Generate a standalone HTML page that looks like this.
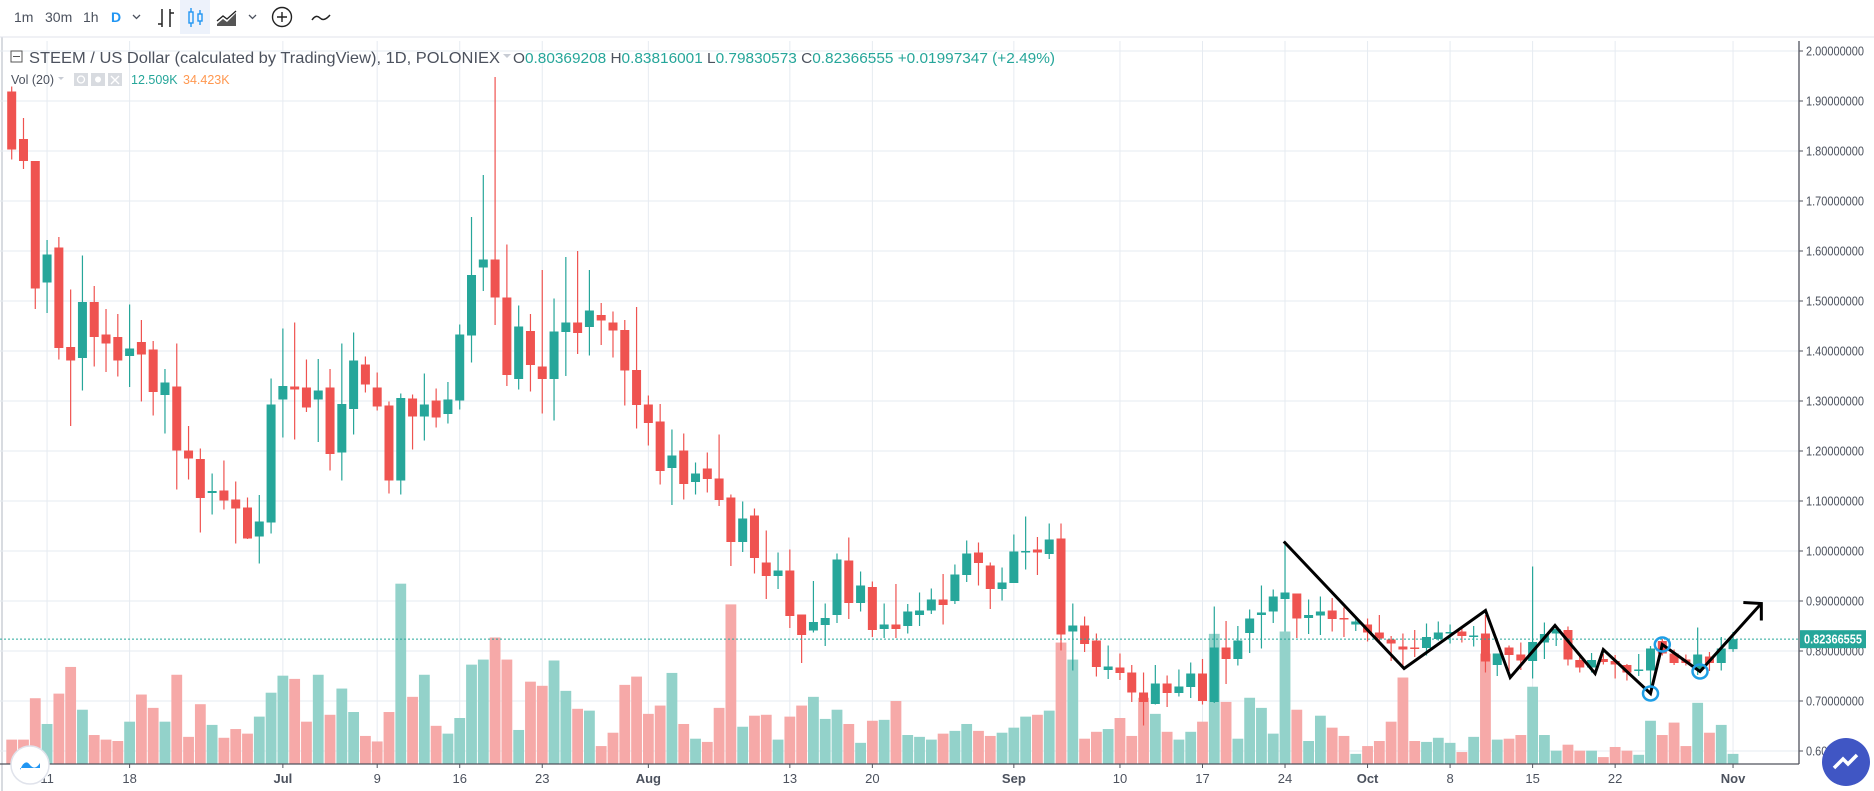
<!DOCTYPE html>
<html><head><meta charset="utf-8">
<style>
html,body{margin:0;padding:0;background:#fff;}
svg{display:block;font-family:"Liberation Sans",sans-serif;}
</style></head>
<body>
<svg id="chart" width="1874" height="791" viewBox="0 0 1874 791" xmlns="http://www.w3.org/2000/svg">
  <rect x="0" y="0" width="1874" height="791" fill="#fff"/>
  <line x1="2" y1="37" x2="2" y2="791" stroke="#d8dbe0" stroke-width="2"/>
  <g id="toolbar" font-size="14" fill="#4c525e">
    <text x="14" y="22">1m</text>
    <text x="45" y="22">30m</text>
    <text x="83" y="22">1h</text>
    <text x="111" y="22" fill="#2196f3" font-weight="bold">D</text>
    <path d="M133 15 l3.5 3.5 l3.5 -3.5" fill="none" stroke="#4c525e" stroke-width="1.3"/>
    <g stroke="#222" stroke-width="1.5" fill="none">
      <path d="M162 9 v18 M158 24 h4 M170 9 v18 M170 13 h4"/>
    </g>
    <rect x="180" y="0" width="30" height="34" fill="#edf2fb"/>
    <g stroke="#2196f3" stroke-width="1.4" fill="none">
      <rect x="189" y="12" width="4" height="11"/><path d="M191 8 v4 M191 23 v4"/>
      <rect x="198" y="14" width="4" height="7"/><path d="M200 10 v4 M200 21 v4"/>
    </g>
    <g>
      <path d="M217 24 l6 -5 l4 3 l9 -9 v13 h-19z" fill="#555"/>
      <path d="M217 21 l6 -5 l4 3 l9 -8" fill="none" stroke="#222" stroke-width="1.3"/>
    </g>
    <path d="M249 15 l3.5 3.5 l3.5 -3.5" fill="none" stroke="#4c525e" stroke-width="1.3"/>
    <g>
      <circle cx="282" cy="17" r="9.5" fill="none" stroke="#222" stroke-width="1.4"/>
      <path d="M277 17 h10 M282 12 v10" stroke="#222" stroke-width="1.4"/>
    </g>
    <path d="M312 20 q4 -6 8 -2 q4 4 10 -3" fill="none" stroke="#222" stroke-width="1.5"/>
  </g>
  <line x1="0" y1="37" x2="1874" y2="37" stroke="#e0e3eb" stroke-width="1"/>
  <g id="grid"></g>
  <g id="volumes"></g>
  <g id="candles"></g>
  <g id="axes"></g>
  <g id="drawing"></g>
  <g id="legend">
    <g>
      <rect x="11" y="51" width="11" height="11" fill="none" stroke="#555" stroke-width="1"/>
      <path d="M13 56.5 h7" stroke="#555" stroke-width="1"/>
    </g>
    <text x="29" y="63" font-size="16" fill="#4c525e" textLength="471" lengthAdjust="spacingAndGlyphs">STEEM / US Dollar (calculated by TradingView), 1D, POLONIEX</text>
    <path d="M503 54 l4 4 l4 -4z" fill="#c8ccd4"/>
    <text x="513" y="63" font-size="15" fill="#4c525e" textLength="542" lengthAdjust="spacingAndGlyphs">O<tspan fill="#26a69a">0.80369208</tspan>  H<tspan fill="#26a69a">0.83816001</tspan>  L<tspan fill="#26a69a">0.79830573</tspan>  C<tspan fill="#26a69a">0.82366555</tspan>  <tspan fill="#26a69a">+0.01997347 (+2.49%)</tspan></text>
    <text x="11" y="84" font-size="12.5" fill="#4c525e">Vol (20)</text>
    <path d="M58 77 l3 3 l3 -3z" fill="#c8ccd4"/>
    <rect x="74" y="73" width="14" height="13" fill="#d8dbe0"/>
    <rect x="91" y="73" width="14" height="13" fill="#d8dbe0"/>
    <rect x="108" y="73" width="14" height="13" fill="#d8dbe0"/>
    <circle cx="81" cy="79.5" r="3.5" fill="none" stroke="#fff" stroke-width="1.3"/>
    <circle cx="98" cy="79.5" r="3" fill="#fff"/>
    <path d="M111 76 l8 8 M119 76 l-8 8" stroke="#fff" stroke-width="1.4"/>
    <text x="131" y="84" font-size="12.5" fill="#26a69a">12.509K</text>
    <text x="183" y="84" font-size="12.5" fill="#ff9850">34.423K</text>
  </g>
  <g>
    <circle cx="30" cy="765" r="19" fill="#fff" stroke="#e0e3eb" stroke-width="1.5"/>
    <path d="M20 770 q5 -12 10 -5 q5 6 10 -2 v5 h-20z" fill="#2196f3"/>
  </g>
  <g>
    <circle cx="1846" cy="762" r="24" fill="#4056c4"/>
    <path d="M1830 780 l4 -8 z" fill="#4056c4"/>
    <path d="M1834 768 l9 -9 l5 5 l9 -9" fill="none" stroke="#fff" stroke-width="3.5"/>
  </g>
</svg>
<script>
var opens=[1.919,1.824,1.780,1.537,1.607,1.408,1.386,1.498,1.433,1.428,1.390,1.418,1.403,1.312,1.329,1.201,1.184,1.116,1.121,1.103,1.087,1.029,1.057,1.303,1.329,1.327,1.303,1.327,1.197,1.284,1.373,1.327,1.291,1.141,1.305,1.269,1.301,1.274,1.301,1.431,1.567,1.583,1.507,1.344,1.440,1.369,1.344,1.438,1.457,1.448,1.472,1.457,1.442,1.362,1.293,1.259,1.166,1.201,1.138,1.165,1.145,1.107,1.018,1.071,0.977,0.950,0.961,0.873,0.841,0.852,0.872,0.981,0.896,0.928,0.844,0.853,0.850,0.872,0.881,0.903,0.900,0.952,0.997,0.971,0.924,0.936,0.997,1.003,0.994,1.025,0.839,0.851,0.821,0.762,0.767,0.757,0.717,0.694,0.735,0.716,0.728,0.755,0.698,0.807,0.784,0.836,0.872,0.879,0.904,0.915,0.866,0.871,0.881,0.866,0.853,0.853,0.837,0.823,0.809,0.807,0.806,0.824,0.835,0.839,0.829,0.835,0.772,0.807,0.793,0.780,0.817,0.835,0.842,0.782,0.767,0.784,0.780,0.772,0.761,0.761,0.820,0.795,0.783,0.763,0.789,0.776,0.80369];
var highs=[1.929,1.866,1.780,1.622,1.628,1.523,1.591,1.530,1.484,1.474,1.493,1.462,1.420,1.364,1.415,1.250,1.205,1.155,1.181,1.139,1.107,1.112,1.345,1.445,1.457,1.383,1.384,1.364,1.415,1.437,1.389,1.357,1.299,1.315,1.313,1.355,1.325,1.338,1.453,1.668,1.752,1.948,1.613,1.491,1.474,1.562,1.505,1.588,1.600,1.562,1.496,1.479,1.462,1.488,1.311,1.294,1.243,1.235,1.177,1.197,1.233,1.113,1.099,1.085,1.041,0.997,1.003,0.873,0.940,0.895,0.995,1.027,0.959,0.939,0.895,0.934,0.894,0.917,0.925,0.954,0.973,1.021,1.017,0.977,0.967,1.033,1.069,1.028,1.055,1.055,0.895,0.869,0.835,0.811,0.795,0.772,0.757,0.772,0.751,0.763,0.777,0.784,0.889,0.860,0.850,0.883,0.931,0.923,1.020,0.915,0.903,0.909,0.906,0.887,0.870,0.865,0.872,0.830,0.835,0.842,0.855,0.859,0.853,0.850,0.850,0.872,0.795,0.811,0.817,0.969,0.857,0.846,0.849,0.791,0.796,0.794,0.792,0.774,0.794,0.810,0.824,0.803,0.793,0.847,0.798,0.828,0.83816];
var lows=[1.783,1.764,1.484,1.476,1.383,1.250,1.321,1.369,1.358,1.349,1.328,1.299,1.271,1.235,1.123,1.143,1.037,1.073,1.083,1.015,1.024,0.975,1.035,1.227,1.223,1.278,1.218,1.161,1.141,1.233,1.317,1.281,1.115,1.113,1.203,1.221,1.247,1.255,1.283,1.377,1.520,1.452,1.330,1.323,1.319,1.275,1.261,1.350,1.394,1.391,1.412,1.387,1.291,1.245,1.211,1.133,1.092,1.103,1.113,1.117,1.090,0.970,0.998,0.955,0.904,0.924,0.846,0.776,0.837,0.810,0.856,0.864,0.879,0.828,0.826,0.826,0.835,0.850,0.874,0.853,0.894,0.938,0.931,0.884,0.901,0.936,0.963,0.952,0.984,0.801,0.761,0.798,0.749,0.744,0.742,0.698,0.651,0.693,0.688,0.709,0.706,0.693,0.696,0.734,0.771,0.796,0.805,0.856,0.839,0.826,0.834,0.832,0.839,0.828,0.840,0.819,0.817,0.780,0.771,0.788,0.791,0.821,0.815,0.817,0.809,0.757,0.750,0.760,0.762,0.745,0.784,0.810,0.771,0.757,0.757,0.773,0.745,0.741,0.750,0.725,0.791,0.772,0.771,0.752,0.760,0.761,0.79831];
var closes=[1.803,1.780,1.525,1.593,1.406,1.381,1.498,1.428,1.415,1.381,1.405,1.393,1.318,1.337,1.201,1.185,1.106,1.120,1.101,1.085,1.025,1.059,1.293,1.330,1.323,1.287,1.321,1.194,1.294,1.381,1.333,1.289,1.141,1.306,1.269,1.293,1.267,1.303,1.433,1.552,1.583,1.507,1.352,1.449,1.372,1.344,1.439,1.457,1.436,1.481,1.461,1.441,1.361,1.292,1.256,1.160,1.191,1.134,1.155,1.144,1.102,1.018,1.065,0.986,0.950,0.961,0.870,0.832,0.858,0.866,0.983,0.896,0.931,0.842,0.853,0.844,0.879,0.881,0.903,0.892,0.953,0.995,0.976,0.924,0.937,0.999,1.000,0.997,1.023,0.833,0.851,0.814,0.768,0.769,0.756,0.717,0.698,0.735,0.716,0.729,0.755,0.700,0.807,0.784,0.821,0.865,0.877,0.909,0.917,0.865,0.872,0.879,0.864,0.864,0.859,0.837,0.825,0.815,0.803,0.805,0.828,0.837,0.838,0.830,0.831,0.779,0.795,0.792,0.781,0.818,0.834,0.844,0.783,0.767,0.782,0.778,0.773,0.757,0.763,0.805,0.795,0.776,0.776,0.793,0.776,0.805,0.82367];
var volumes=[5.3,5.3,14.3,8.7,15.3,21.1,11.8,6.3,5.3,5.0,9.2,15.1,12.2,9.2,19.4,5.9,13.0,8.5,5.7,7.6,6.6,10.3,15.5,19.2,18.5,9.2,19.4,10.7,16.4,11.3,6.1,4.9,11.3,39.2,14.6,19.4,8.3,6.6,10.0,21.6,22.7,27.5,22.7,7.4,17.9,17.0,22.5,15.9,12.0,11.6,3.9,6.8,17.2,19.0,10.9,12.7,19.8,8.7,5.5,4.8,12.2,34.7,8.1,10.5,10.7,5.3,10.3,12.7,14.6,9.8,11.8,8.7,4.6,9.4,9.6,13.7,6.3,5.9,5.3,6.6,7.2,8.7,7.2,6.1,6.8,7.9,10.3,10.7,11.6,26.4,22.7,5.5,7.0,7.6,10.0,6.1,14.4,10.9,7.0,5.3,7.0,9.2,28.3,13.5,5.5,14.4,12.2,6.6,28.8,11.8,5.0,10.5,7.9,6.1,2.2,3.9,5.0,9.2,18.8,5.0,4.8,5.7,4.6,2.6,5.9,24.0,5.3,5.5,6.3,16.8,6.3,2.9,4.2,2.9,2.9,1.5,3.7,2.9,2.0,9.4,6.3,9.0,3.9,13.3,6.8,8.5,2.2];
var tickLabels=["11","18","Jul","9","16","23","Aug","13","20","Sep","10","17","24","Oct","8","15","22","Nov"];
var tickIdx=[3,10,23,31,38,45,54,66,73,85,94,101,108,115,122,129,136,146];
var priceTicks=[2.0,1.9,1.8,1.7,1.6,1.5,1.4,1.3,1.2,1.1,1.0,0.9,0.8,0.7,0.6];
var lastPrice=0.82366555;
var drawIdx=[107.9,118.1,125.0,127.1,130.9,134.3,135.0,139.0,140.0,143.2,148.4];
var drawPrice=[1.019,0.765,0.881,0.747,0.851,0.755,0.803,0.715,0.813,0.759,0.895];
var circleIdx=[139.0,140.0,143.2];
var circlePrice=[0.715,0.813,0.759];

var NS="http://www.w3.org/2000/svg";
var AXIS_X=1799, TOP=41, BOTTOM=764;
function xScale(i){return 11.7+i*11.79;}
function yScale(p){return 51+(2.0-p)*500;}
function vScale(v){return BOTTOM-v*4.6;}
function mk(tag,attrs,parent){var e=document.createElementNS(NS,tag);for(var k in attrs)e.setAttribute(k,attrs[k]);parent.appendChild(e);return e;}

var grid=document.getElementById('grid');
priceTicks.forEach(function(p){
  var l=mk('line',{x1:0,x2:AXIS_X,y1:yScale(p),y2:yScale(p),stroke:'#e6ebf1','stroke-width':1},grid);
  
  
});
tickIdx.forEach(function(i){
  var l=mk('line',{x1:xScale(i),x2:xScale(i),y1:TOP,y2:BOTTOM,stroke:'#e6ebf1','stroke-width':1},grid);
  
  
});

var vg=document.getElementById('volumes');
volumes.forEach(function(v,i){
  var up=closes[i]>=opens[i];
  var r=mk('rect',{x:xScale(i)-5.4,y:vScale(v),width:10.8,height:BOTTOM-vScale(v),fill:up?'#93d2ca':'#f6a9a8'},vg);
  
  
});

var lp=mk('line',{x1:0,x2:AXIS_X,y1:yScale(lastPrice),y2:yScale(lastPrice),stroke:'#26a69a','stroke-width':1,'stroke-dasharray':'2,2'},document.getElementById('axes'));



var cg=document.getElementById('candles');
opens.forEach(function(o,i){
  var c=closes[i],up=c>=o,col=up?'#26a69a':'#ef5350',x=xScale(i);
  var g=mk('g',{},cg);
  
  
  mk('line',{x1:x,x2:x,y1:yScale(highs[i]),y2:yScale(lows[i]),stroke:col,'stroke-width':1.2},g);
  var t=yScale(Math.max(o,c)),b=yScale(Math.min(o,c));
  mk('rect',{x:x-4.5,y:t,width:9,height:Math.max(1.5,b-t),fill:col},g);
});

var ax=document.getElementById('axes');
mk('line',{x1:AXIS_X,x2:AXIS_X,y1:TOP,y2:BOTTOM,stroke:'#50535e','stroke-width':1.3},ax);
mk('line',{x1:0,x2:AXIS_X,y1:BOTTOM,y2:BOTTOM,stroke:'#50535e','stroke-width':1.3},ax);
priceTicks.forEach(function(p){
  var y=yScale(p);
  mk('line',{x1:AXIS_X,x2:AXIS_X+4,y1:y,y2:y,stroke:'#50535e'},ax);
  var t=mk('text',{x:1806,y:y+4.5,'font-size':12.5,fill:'#4c525e',textLength:58,lengthAdjust:'spacingAndGlyphs'},ax);
  t.textContent=p.toFixed(8);
  
  
});
tickIdx.forEach(function(i,j){
  var x=xScale(i);
  mk('line',{x1:x,x2:x,y1:BOTTOM,y2:BOTTOM+4,stroke:'#50535e'},ax);
  var t=mk('text',{x:x,y:783,'font-size':13,fill:'#4c525e','text-anchor':'middle','font-weight':/[A-Z]/.test(tickLabels[j])?'bold':'normal'},ax);
  t.textContent=tickLabels[j];
  
  
});
var lb=mk('rect',{x:1800,y:yScale(lastPrice)-9,width:66,height:18,fill:'#26a69a'},ax);


var lt=mk('text',{x:1833,y:yScale(lastPrice)+4.5,'font-size':12.5,'font-weight':'bold',fill:'#fff','text-anchor':'middle',textLength:58,lengthAdjust:'spacingAndGlyphs'},ax);
lt.textContent=lastPrice.toFixed(8);



var dg=document.getElementById('drawing');
var pts=drawIdx.map(function(i,k){return xScale(i).toFixed(1)+','+yScale(drawPrice[k]).toFixed(1);}).join(' ');
var pl=mk('polyline',{points:pts,fill:'none',stroke:'#000','stroke-width':3,'stroke-linejoin':'miter'},dg);


var n=drawIdx.length-1,tx=xScale(drawIdx[n]),ty=yScale(drawPrice[n]);
var ah=mk('polyline',{points:(tx-18)+','+(ty-1)+' '+tx+','+ty+' '+tx+','+(ty+17),fill:'none',stroke:'#000','stroke-width':3},dg);


circleIdx.forEach(function(i,k){
  var c=mk('ellipse',{cx:xScale(i),cy:yScale(circlePrice[k]),rx:7.5,ry:7,fill:'none',stroke:'#1e9ee6','stroke-width':2.5},dg);
  
  
});
</script>
</body></html>
